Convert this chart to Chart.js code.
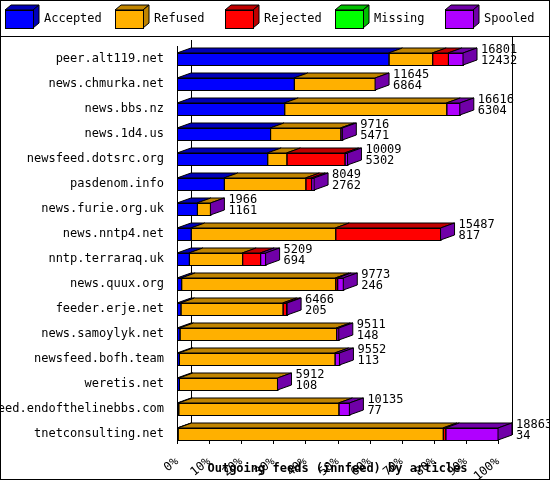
<!DOCTYPE html>
<html>
<head>
<meta charset="utf-8">
<script src="https://cdn.jsdelivr.net/npm/chart.js@4/dist/chart.umd.min.js"></script>
<style>
  html, body { margin: 0; padding: 0; background: #fff; }
  #wrap { width: 550px; height: 480px; position: relative; }
</style>
</head>
<body>
<div id="wrap"><canvas id="c" width="550" height="480"></canvas></div>
<script>
// ── Data (percent of largest feed) ──
const hosts = ['peer.alt119.net', 'news.chmurka.net', 'news.bbs.nz', 'news.1d4.us', 'newsfeed.dotsrc.org',
  'pasdenom.info', 'news.furie.org.uk', 'news.nntp4.net', 'nntp.terraraq.uk', 'news.quux.org',
  'feeder.erje.net', 'news.samoylyk.net', 'newsfeed.bofh.team', 'weretis.net',
  'newsfeed.endofthelinebbs.com', 'tnetconsulting.net'];
const accepted = [65.9, 36.4, 33.4, 29.0, 28.1, 14.6, 6.2, 4.3, 3.7, 1.3, 1.1, 0.8, 0.6, 0.6, 0.4, 0.2];
const refused  = [13.6, 25.3, 50.5, 21.9, 6.0, 25.4, 4.2, 45.0, 16.6, 48.0, 31.8, 48.8, 48.5, 30.7, 49.9, 82.6];
const rejected = [4.9, 0, 0, 0, 18.1, 1.8, 0, 32.8, 5.6, 0.6, 1.1, 0, 0, 0, 0, 0.8];
const missing  = [0, 0, 0, 0, 0, 0, 0, 0, 0, 0, 0, 0, 0, 0, 0, 0];
const spooled  = [4.7, 0, 4.2, 0.6, 0.9, 0.9, 0, 0, 1.7, 1.9, 0.3, 0.8, 1.5, 0, 3.4, 16.4];
const totals   = [16801, 11645, 16616, 9716, 10009, 8049, 1966, 15487, 5209, 9773, 6466, 9511, 9552, 5912, 10135, 18863];
const acceptedCount = [12432, 6864, 6304, 5471, 5302, 2762, 1161, 817, 694, 246, 205, 148, 113, 108, 77, 34];
const xTicks = [0, 10, 20, 30, 40, 50, 60, 70, 80, 90, 100];

const series = [
  { label: 'Accepted', data: accepted, color: '#0000ff', top: '#0000b8' },
  { label: 'Refused',  data: refused,  color: '#ffb000', top: '#c08400' },
  { label: 'Rejected', data: rejected, color: '#ff0000', top: '#c00000' },
  { label: 'Missing',  data: missing,  color: '#00ff00', top: '#00c000' },
  { label: 'Spooled',  data: spooled,  color: '#b000ff', top: '#7000a8' },
];

const DX = 14, DY = -5;
const MONO = '"DejaVu Sans Mono", monospace';

function poly(ctx, pts, fill) {
  ctx.beginPath();
  ctx.moveTo(pts[0][0], pts[0][1]);
  for (let i = 1; i < pts.length; i++) ctx.lineTo(pts[i][0], pts[i][1]);
  ctx.closePath();
  ctx.fillStyle = fill;
  ctx.fill();
  ctx.stroke();
}

// ─── 3D faces, frame, legend, labels ───
const bars3d = {
  id: 'bars3d',
  beforeDatasetsDraw(chart) {
    const ctx = chart.ctx, a = chart.chartArea;
    const x0 = chart.scales.x.getPixelForValue(0);
    const x100 = chart.scales.x.getPixelForValue(100);
    ctx.save();
    ctx.strokeStyle = '#000';
    ctx.lineWidth = 1;
    ctx.beginPath();
    ctx.moveTo(x0 + DX + 0.5, 40); ctx.lineTo(x0 + DX + 0.5, 435);
    ctx.moveTo(x0 + 0.5, 46); ctx.lineTo(x0 + 0.5, 440.5);
    ctx.lineTo(x100, 440.5);
    ctx.moveTo(x100 + DX + 0.5, 36); ctx.lineTo(x100 + DX + 0.5, 435);
    xTicks.forEach(t => {
      const px = Math.round(chart.scales.x.getPixelForValue(t)) + 0.5;
      ctx.moveTo(px, 440); ctx.lineTo(px, 444);
    });
    ctx.stroke();
    ctx.restore();
  },
  afterDatasetsDraw(chart) {
    const ctx = chart.ctx;
    ctx.save();
    ctx.strokeStyle = '#000';
    ctx.lineWidth = 1;
    hosts.forEach((h, i) => {
      let endX = null, top = 0, bottom = 0;
      series.forEach((s, d) => {
        const el = chart.getDatasetMeta(d).data[i];
        if (!el || s.data[i] <= 0) return;
        const x1 = Math.min(el.base, el.x), x2 = Math.max(el.base, el.x);
        top = el.y - el.height / 2; bottom = el.y + el.height / 2;
        poly(ctx, [[x1, top], [x2, top], [x2 + DX, top + DY], [x1 + DX, top + DY]], s.top);
        ctx.strokeRect(x1 + 0.5, top + 0.5, x2 - x1, bottom - top);
        endX = x2;
      });
      if (endX === null) return;
      poly(ctx, [[endX, top], [endX + DX, top + DY], [endX + DX, bottom + DY], [endX, bottom]], '#7000a8');
      ctx.fillStyle = '#000';
      ctx.font = '12px ' + MONO;
      ctx.textAlign = 'left';
      ctx.textBaseline = 'middle';
      ctx.fillText(String(totals[i]), endX + DX + 4, top - 3);
      ctx.fillText(String(acceptedCount[i]), endX + DX + 4, top + 8);
    });
    ctx.restore();
  },
  afterDraw(chart) {
    const ctx = chart.ctx;
    ctx.save();
    ctx.strokeStyle = '#000';
    ctx.lineWidth = 1;
    ctx.strokeRect(0.5, 0.5, 549, 479);
    ctx.beginPath(); ctx.moveTo(0, 36.5); ctx.lineTo(550, 36.5); ctx.stroke();
    series.forEach((s, k) => {
      const bx = 5 + k * 110, by = 10, bw = 28, bh = 18, d = 6;
      poly(ctx, [[bx, by], [bx + bw, by], [bx + bw + d, by - d + 1], [bx + d, by - d + 1]], s.top);
      poly(ctx, [[bx + bw, by], [bx + bw + d, by - d + 1], [bx + bw + d, by + bh - d + 1], [bx + bw, by + bh]], s.top);
      ctx.fillStyle = s.color;
      ctx.fillRect(bx, by, bw, bh);
      ctx.strokeRect(bx + 0.5, by + 0.5, bw, bh);
      ctx.fillStyle = '#000';
      ctx.font = '12px ' + MONO;
      ctx.textBaseline = 'middle';
      ctx.textAlign = 'left';
      ctx.fillText(s.label, bx + 39, 19);
    });
    ctx.restore();
  }
};

new Chart(document.getElementById('c'), {
  type: 'bar',
  data: {
    labels: hosts,
    datasets: series.map(s => ({
      label: s.label, data: s.data, backgroundColor: s.color,
      borderWidth: 0, barThickness: 12,
    })),
  },
  options: {
    indexAxis: 'y',
    responsive: false,
    animation: false,
    layout: { padding: { top: 46.5, right: 52, left: 0, bottom: 0 } },
    plugins: { legend: { display: false }, tooltip: { enabled: false } },
    scales: {
      x: {
        stacked: true, min: 0, max: 100,
        grid: { display: false }, border: { display: false },
        afterFit: s => { s.height = 33.5; },
        afterBuildTicks: s => { s.ticks = xTicks.map(v => ({ value: v })); },
        ticks: { color: '#000', padding: 0, font: { family: MONO, size: 12 }, callback: v => v + '%' },
        title: { display: true, text: 'Outgoing feeds (innfeed) by articles', color: '#000',
          padding: { top: 0, bottom: 4 }, font: { family: MONO, size: 12, weight: 'bold' } },
      },
      y: {
        stacked: true,
        grid: { display: false }, border: { display: false },
        afterFit: s => { s.width = 177; },
        ticks: { color: '#000', padding: 5, font: { family: MONO, size: 12 } },
      },
    },
  },
  plugins: [bars3d],
});
</script>
</body>
</html>
